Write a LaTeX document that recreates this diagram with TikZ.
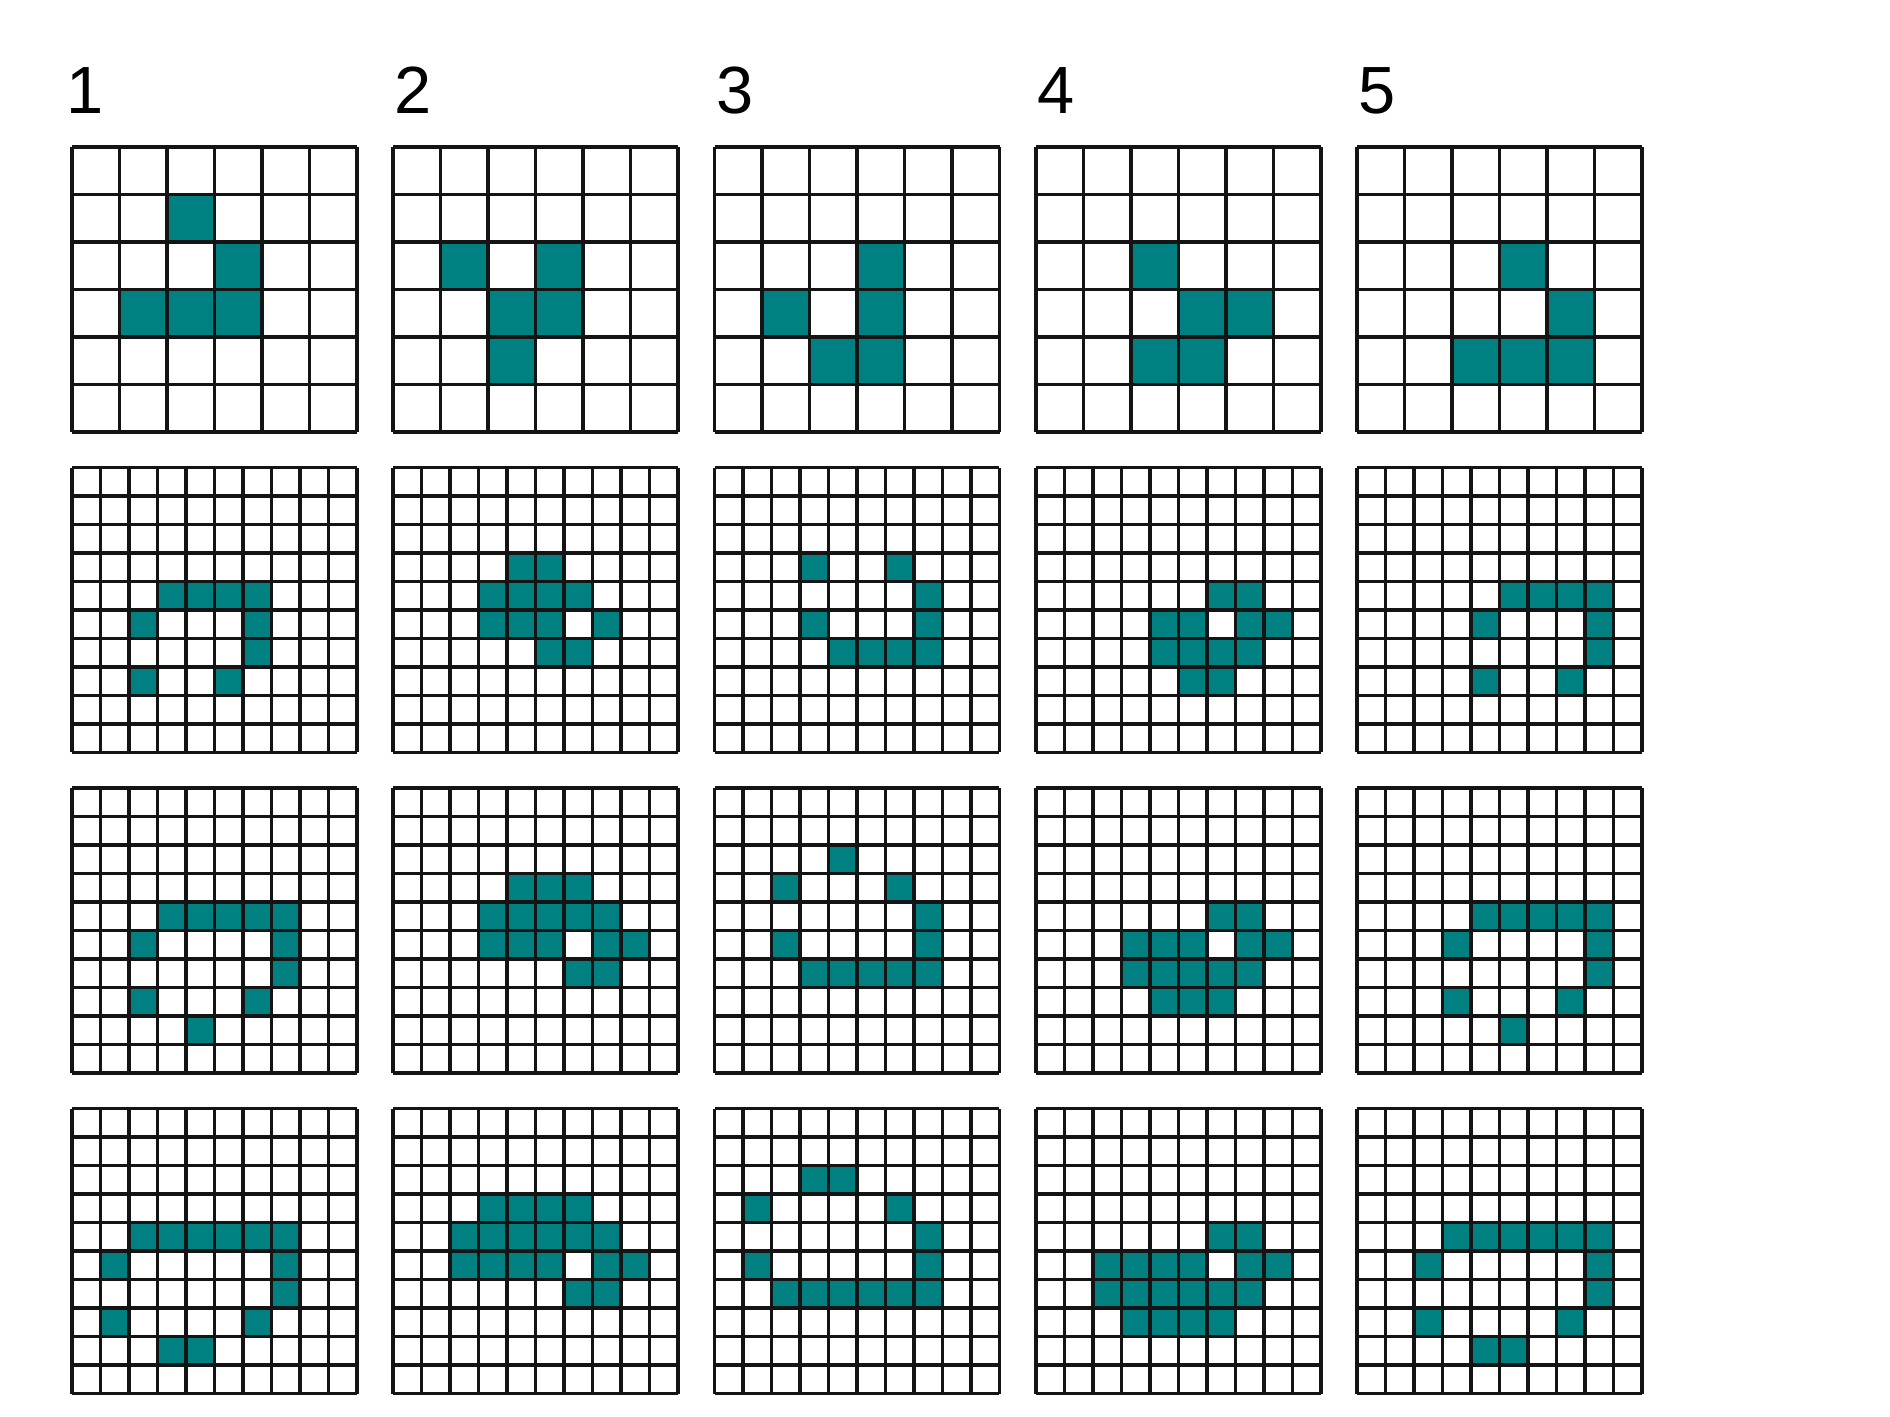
\documentclass[tikz,border=0pt]{standalone}
\usepackage{fontspec}
\setmainfont{Liberation Sans}
\usepackage{tikz}
\usetikzlibrary{positioning}
\definecolor{alive}{HTML}{008080}
\definecolor{gridink}{HTML}{141414}

\tikzset{
  smallgrid/.style={gridink,line width=0.9pt},
  biggrid/.style={gridink,line width=1.1pt},
  stepnum/.style={anchor=base west,inner sep=0pt,font=\fontsize{19}{23}\selectfont}
}

% board: x, y (top left), cells per side, grid style, live cells col/row
\newcommand{\lifeboard}[5]{%
  \pgfmathsetmacro{\cellsz}{2.85/#3}
  \begin{scope}[shift={(#1,#2)},scale=\cellsz]
    \foreach \c/\r in {#5}
      \fill[alive] (\c,-\r) rectangle ++(1,-1);
    \draw[#4] (0,0) grid (#3,-#3);
  \end{scope}}

\begin{document}
\begin{tikzpicture}
  \useasboundingbox (0,0) rectangle (18.9,-14.17);
  % step numbers
  \node[stepnum] (lab1) at (0.66,-1.13) {1};
  \foreach \k in {2,...,5}
    \node[stepnum] (lab\k) at ({0.73+(\k-1)*3.2125},-1.13) {\k};
  % row 1: 6x6 glider
  \lifeboard{0.72}{-1.47}{6}{smallgrid}{2/1,3/2,1/3,2/3,3/3}
  \lifeboard{3.93}{-1.47}{6}{smallgrid}{1/2,3/2,2/3,3/3,2/4}
  \lifeboard{7.145}{-1.47}{6}{smallgrid}{3/2,1/3,3/3,2/4,3/4}
  \lifeboard{10.36}{-1.47}{6}{smallgrid}{2/2,3/3,4/3,2/4,3/4}
  \lifeboard{13.57}{-1.47}{6}{smallgrid}{3/2,4/3,2/4,3/4,4/4}
  % row 2
  \lifeboard{0.72}{-4.675}{10}{biggrid}{3/4,4/4,5/4,6/4,2/5,6/5,6/6,2/7,5/7}
  \lifeboard{3.93}{-4.675}{10}{biggrid}{4/3,5/3,3/4,4/4,5/4,6/4,3/5,4/5,5/5,7/5,5/6,6/6}
  \lifeboard{7.145}{-4.675}{10}{biggrid}{3/3,6/3,7/4,3/5,7/5,4/6,5/6,6/6,7/6}
  \lifeboard{10.36}{-4.675}{10}{biggrid}{6/4,7/4,4/5,5/5,7/5,8/5,4/6,5/6,6/6,7/6,5/7,6/7}
  \lifeboard{13.57}{-4.675}{10}{biggrid}{5/4,6/4,7/4,8/4,4/5,8/5,8/6,4/7,7/7}
  % row 3
  \lifeboard{0.72}{-7.88}{10}{biggrid}{3/4,4/4,5/4,6/4,7/4,2/5,7/5,7/6,2/7,6/7,4/8}
  \lifeboard{3.93}{-7.88}{10}{biggrid}{4/3,5/3,6/3,3/4,4/4,5/4,6/4,7/4,3/5,4/5,5/5,7/5,8/5,6/6,7/6}
  \lifeboard{7.145}{-7.88}{10}{biggrid}{4/2,2/3,6/3,7/4,2/5,7/5,3/6,4/6,5/6,6/6,7/6}
  \lifeboard{10.36}{-7.88}{10}{biggrid}{6/4,7/4,3/5,4/5,5/5,7/5,8/5,3/6,4/6,5/6,6/6,7/6,4/7,5/7,6/7}
  \lifeboard{13.57}{-7.88}{10}{biggrid}{4/4,5/4,6/4,7/4,8/4,3/5,8/5,8/6,3/7,7/7,5/8}
  % row 4
  \lifeboard{0.72}{-11.085}{10}{biggrid}{2/4,3/4,4/4,5/4,6/4,7/4,1/5,7/5,7/6,1/7,6/7,3/8,4/8}
  \lifeboard{3.93}{-11.085}{10}{biggrid}{3/3,4/3,5/3,6/3,2/4,3/4,4/4,5/4,6/4,7/4,2/5,3/5,4/5,5/5,7/5,8/5,6/6,7/6}
  \lifeboard{7.145}{-11.085}{10}{biggrid}{3/2,4/2,1/3,6/3,7/4,1/5,7/5,2/6,3/6,4/6,5/6,6/6,7/6}
  \lifeboard{10.36}{-11.085}{10}{biggrid}{6/4,7/4,2/5,3/5,4/5,5/5,7/5,8/5,2/6,3/6,4/6,5/6,6/6,7/6,3/7,4/7,5/7,6/7}
  \lifeboard{13.57}{-11.085}{10}{biggrid}{3/4,4/4,5/4,6/4,7/4,8/4,2/5,8/5,8/6,2/7,7/7,4/8,5/8}
\end{tikzpicture}
\end{document}
